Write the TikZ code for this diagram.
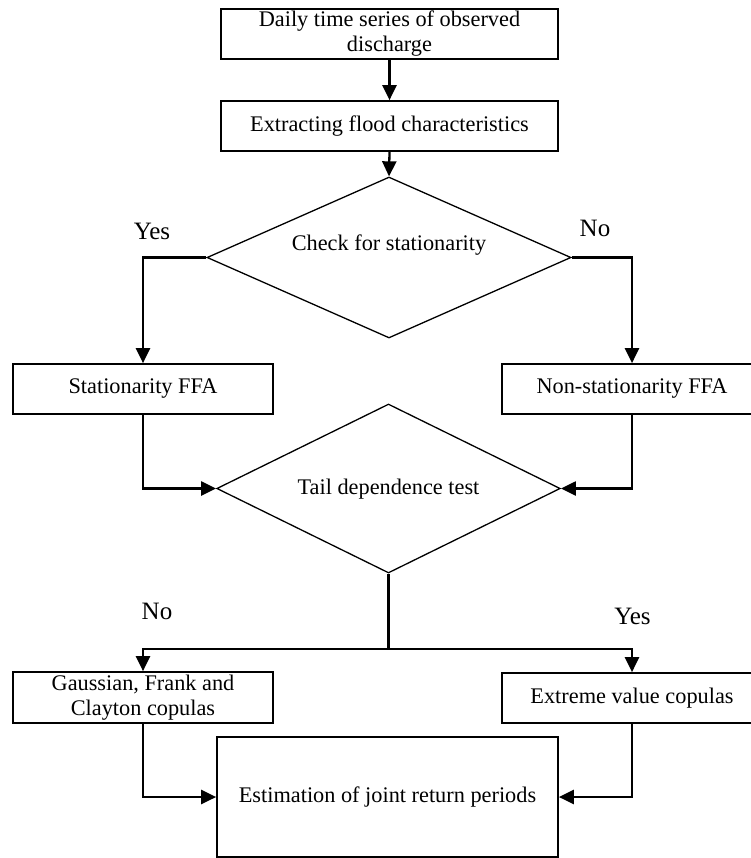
\documentclass[tikz,border=0pt]{standalone}
\usepackage{fontspec}
\setmainfont{Liberation Serif}
\usetikzlibrary{shapes.geometric,arrows.meta}
\begin{document}
\begin{tikzpicture}[x=1pt,y=-1pt,
  every node/.style={font=\fontsize{22.3}{25}\selectfont},
  box/.style={draw, line width=1.7pt, inner sep=0pt, minimum height=50pt, align=center},
  dec/.style={draw, diamond, line width=1.3pt, inner sep=0pt},
  txt/.style={inner sep=0pt},
  lbl/.style={inner sep=0pt, anchor=base, font=\fontsize{25}{28}\selectfont},
  conn/.style={line width=2.3pt, -{Triangle[length=15pt,width=14pt]}},
  plain/.style={line width=2.3pt}]
\useasboundingbox (0,0) rectangle (751,858);
\clip (0,0) rectangle (751,858);
\fill[white] (0,0) rectangle (751,858);
% boxes
\node[box, minimum width=337pt] (b1) at (389.5,34) {Daily time series of observed\\discharge};
\node[box, minimum width=337pt] (b2) at (389.5,126) {Extracting flood characteristics};
\node[dec, minimum width=364pt, minimum height=161pt] (d1) at (389,257.5) {};
\node[txt] (t1) at (389,245) {Check for stationarity};
\node[box, minimum width=260pt] (stat) at (143,389) {Stationarity FFA};
\node[box, minimum width=260pt] (nstat) at (632,389) {Non-stationarity FFA};
\node[dec, minimum width=343.5pt, minimum height=169pt] (d2) at (388.5,488.5) {};
\node[txt] (t2) at (388.5,489) {Tail dependence test};
\node[box, minimum width=260pt, minimum height=51pt] (gau) at (143,697.5) {Gaussian, Frank and\\Clayton copulas};
\node[box, minimum width=260pt] (ext) at (632,698) {Extreme value copulas};
\node[box, minimum width=341pt, minimum height=120pt] (est) at (387.5,797) {Estimation of joint return periods};
% labels
\node[lbl] (l1) at (152,239.5) {Yes};
\node[lbl] (l2) at (595,236.5) {No};
\node[lbl] (l3) at (157,619) {No};
\node[lbl] (l4) at (632.5,624) {Yes};
% connectors
\draw[conn] (b1.south) -- (b2.north);
\draw[conn] (b2.south) -- (d1.north);
\draw[conn] (d1.west) -| (stat.north);
\draw[conn] (d1.east) -| (nstat.north);
\draw[conn] (stat.south) |- (d2.west);
\draw[conn] (nstat.south) |- (d2.east);
\coordinate (br) at (388.5,649);
\draw[plain] (d2.south) -- (br);
\draw[conn] (br) -| (gau.north);
\draw[conn] (br) -| (ext.north);
\draw[conn] (gau.south) |- (est.west);
\draw[conn] (ext.south) |- (est.east);
\end{tikzpicture}
\end{document}
